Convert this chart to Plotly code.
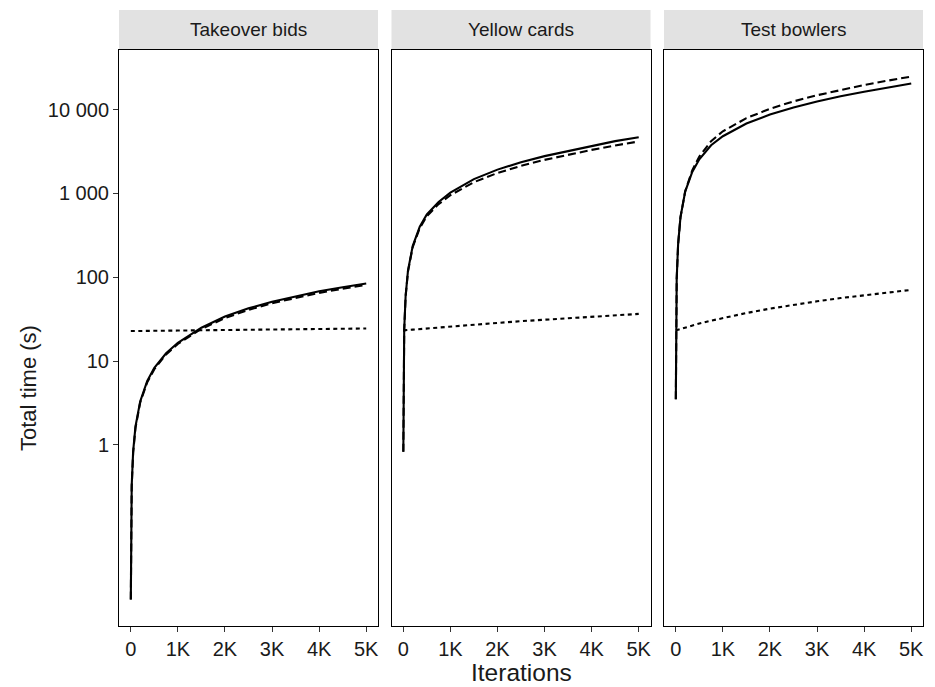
import plotly.graph_objects as go

# Iteration counts at which the cumulative run time was recorded
iterations = [1, 5, 10, 20, 50, 100, 200, 350, 500, 750, 1000, 1500, 2000,
              2500, 3000, 3500, 4000, 4500, 5000]

panels = ["Takeover bids", "Yellow cards", "Test bowlers"]

# Total time (s), one list per method and dataset
takeover_solid = [0.0143, 0.08, 0.165, 0.33, 0.83, 1.66, 3.3, 5.8, 8.3, 12.4,
                  16.5, 25, 34, 42.5, 51, 59.5, 68, 76, 84]
takeover_dashed = [0.0143, 0.078, 0.16, 0.32, 0.8, 1.6, 3.2, 5.6, 8.0, 12.0,
                   16.0, 24.2, 32.5, 40.8, 49, 57, 65, 73, 81]
takeover_dotted = [22.8, 22.8, 22.8, 22.8, 22.8, 22.8, 22.85, 22.9, 22.95,
                   23.0, 23.1, 23.3, 23.45, 23.6, 23.8, 23.95, 24.1, 24.3, 24.45]

yellow_solid = [0.83, 6.0, 12, 24, 60, 120, 235, 400, 560, 790, 1020, 1480,
                1920, 2350, 2780, 3200, 3700, 4200, 4680]
yellow_dashed = [0.83, 5.9, 11.8, 23.5, 59, 117, 228, 385, 535, 745, 950, 1360,
                 1750, 2130, 2510, 2890, 3300, 3730, 4160]
yellow_dotted = [23.2, 23.2, 23.2, 23.25, 23.3, 23.5, 23.7, 24.1, 24.5, 25.2,
                 25.9, 27.2, 28.5, 29.9, 31.2, 32.5, 33.8, 35.2, 36.5]

bowlers_solid = [3.5, 24, 48, 97, 250, 520, 1050, 1800, 2550, 3750, 4800, 6800,
                 8700, 10600, 12450, 14400, 16300, 18300, 20400]
bowlers_dashed = [3.5, 23, 47, 95, 248, 518, 1060, 1880, 2750, 4200, 5500,
                  7900, 10200, 12500, 14800, 17200, 19600, 22100, 24700]
bowlers_dotted = [23.2, 23.2, 23.3, 23.4, 23.7, 24.2, 25.1, 26.5, 28.0, 30.3,
                  32.7, 37.4, 42.2, 46.9, 51.6, 56.4, 61.1, 65.9, 70.6]

x_tick_vals = [0, 1000, 2000, 3000, 4000, 5000]
x_tick_text = ["0", "1K", "2K", "3K", "4K", "5K"]
y_tick_vals = [1, 10, 100, 1000, 10000]
y_tick_text = ["1", "10", "100", "1 000", "10 000"]

series = [
    (takeover_solid, takeover_dashed, takeover_dotted),
    (yellow_solid, yellow_dashed, yellow_dotted),
    (bowlers_solid, bowlers_dashed, bowlers_dotted),
]

W, H = 935, 687
FONT = "Liberation Sans, Arial, sans-serif"
INK = "#1a1a1a"

# Panel placement in pixels (left, right), shared top/bottom
panel_px = [(119, 378), (391.5, 650.5), (664, 923)]
top_px, bottom_px = 50, 626
strip_top_px = 10

fig = go.Figure()

dash_styles = ["solid", "8px,4px", "4px,3.5px"]

for i, (name, group) in enumerate(zip(panels, series)):
    xa = "x" if i == 0 else f"x{i + 1}"
    ya = "y" if i == 0 else f"y{i + 1}"
    for values, dash in zip(group, dash_styles):
        fig.add_trace(go.Scatter(
            x=iterations, y=values, mode="lines",
            line=dict(color="black", width=2.1, dash=dash),
            xaxis=xa, yaxis=ya, showlegend=False, hoverinfo="skip",
        ))

layout = dict(
    width=W, height=H,
    margin=dict(l=0, r=0, t=0, b=0),
    paper_bgcolor="white", plot_bgcolor="white",
    font=dict(family=FONT, color=INK),
    showlegend=False,
)

y0 = 1 - bottom_px / H
y1 = 1 - top_px / H
shapes = []
annotations = []
for i, (left, right) in enumerate(panel_px):
    suffix = "" if i == 0 else str(i + 1)
    dom = [left / W, right / W]
    layout[f"xaxis{suffix}"] = dict(
        domain=dom, anchor=f"y{suffix}", range=[-250, 5250],
        tickvals=x_tick_vals, ticktext=x_tick_text,
        ticks="outside", ticklen=5, tickwidth=1, tickcolor="#333333",
        showgrid=False, zeroline=False,
        showline=True, linecolor="black", linewidth=1, mirror=True,
        tickfont=dict(size=20, color=INK, family=FONT),
    )
    layout[f"yaxis{suffix}"] = dict(
        domain=[y0, y1], anchor=f"x{suffix}", type="log",
        range=[-2.16, 4.71],
        tickvals=y_tick_vals, ticktext=y_tick_text,
        ticks="outside" if i == 0 else "", ticklen=5, tickwidth=1,
        tickcolor="#333333", showticklabels=(i == 0),
        showgrid=False, zeroline=False,
        showline=True, linecolor="black", linewidth=1, mirror=True,
        tickfont=dict(size=20, color=INK, family=FONT),
    )
    # facet strip
    shapes.append(dict(
        type="rect", xref="paper", yref="paper",
        x0=left / W, x1=right / W,
        y0=1 - top_px / H, y1=1 - strip_top_px / H,
        fillcolor="#e2e2e2", line=dict(width=0), layer="below",
    ))
    annotations.append(dict(
        text=panels[i], xref="paper", yref="paper",
        x=(left + right) / 2 / W, y=1 - (top_px + strip_top_px) / 2 / H,
        xanchor="center", yanchor="middle", showarrow=False,
        font=dict(size=19, color=INK, family=FONT),
    ))

annotations.append(dict(
    text="Iterations", xref="paper", yref="paper",
    x=521 / W, y=1 - 672 / H, xanchor="center", yanchor="middle",
    showarrow=False, font=dict(size=24.5, color=INK, family=FONT),
))
annotations.append(dict(
    text="Total time (s)", xref="paper", yref="paper",
    x=28 / W, y=1 - 388 / H, xanchor="center", yanchor="middle",
    textangle=-90, showarrow=False,
    font=dict(size=22, color=INK, family=FONT),
))

layout["shapes"] = shapes
layout["annotations"] = annotations
fig.update_layout(**layout)

fig.write_html("out.html")
